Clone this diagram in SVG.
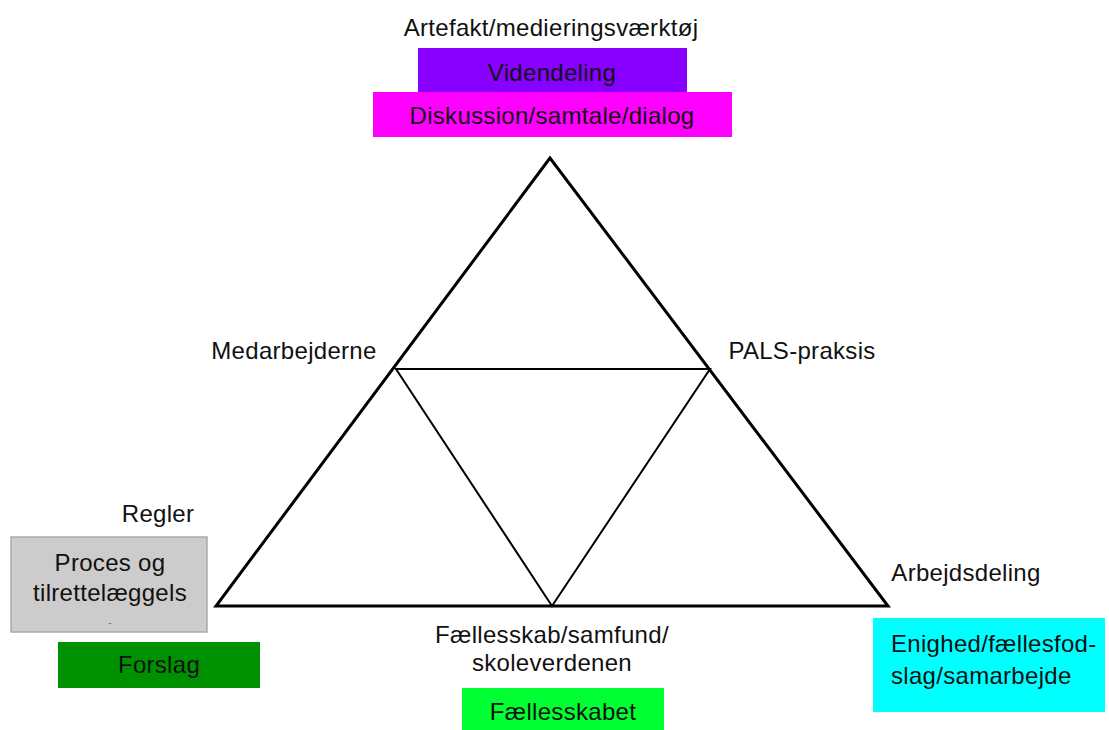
<svg xmlns="http://www.w3.org/2000/svg" width="1109" height="730" viewBox="0 0 1109 730">
  <style>
    text { font-family: "Liberation Sans", Arial, sans-serif; font-size: 24px; letter-spacing: 0.3px; fill: #111; text-anchor: middle; }
    .edge { fill: none; stroke: #000; stroke-linejoin: miter; }
  </style>
  <rect width="1109" height="730" fill="#fff"/>

  <!-- triangle frame and inner triangle -->
  <g id="connectors">
    <polygon class="edge" stroke-width="3" points="550,158 216,606 888,606"/>
    <polygon class="edge" stroke-width="2" points="396,369 710,369 552,606"/>
  </g>

  <g id="artefakt">
    <text x="551" y="36">Artefakt/medieringsværktøj</text>
  </g>
  <g id="videndeling">
    <rect x="418" y="48" width="269" height="44" fill="#8800ff"/>
    <text x="552" y="81">Videndeling</text>
  </g>
  <g id="diskussion">
    <rect x="373" y="92" width="359" height="45" fill="#ff00ff"/>
    <text x="552" y="124">Diskussion/samtale/dialog</text>
  </g>

  <g id="medarbejderne">
    <text x="294" y="359">Medarbejderne</text>
  </g>
  <g id="pals">
    <text x="802" y="359">PALS-praksis</text>
  </g>

  <g id="regler">
    <text x="158" y="522">Regler</text>
  </g>
  <g id="proces">
    <rect x="11" y="537" width="196" height="95" fill="#cccccc" stroke="#aaaaaa" stroke-width="1.5"/>
    <text x="110" y="571">Proces og</text>
    <text x="110" y="601">tilrettelæggels</text>
    <text x="110" y="626" style="font-size:11px;fill:#777">-</text>
  </g>
  <g id="forslag">
    <rect x="58" y="642" width="202" height="46" fill="#009100"/>
    <text x="159" y="673">Forslag</text>
  </g>

  <g id="faellesskab">
    <text x="552" y="643">Fællesskab/samfund/</text>
    <text x="552" y="671">skoleverdenen</text>
  </g>
  <g id="faellesskabet">
    <rect x="462" y="688" width="202" height="42" fill="#00ff33"/>
    <text x="563" y="720">Fællesskabet</text>
  </g>

  <g id="arbejdsdeling">
    <text x="966" y="581">Arbejdsdeling</text>
  </g>
  <g id="enighed">
    <rect x="873" y="618" width="232" height="94" fill="#00ffff"/>
    <text x="891" y="652" style="text-anchor:start">Enighed/fællesfod-</text>
    <text x="891" y="684" style="text-anchor:start">slag/samarbejde</text>
  </g>
</svg>
